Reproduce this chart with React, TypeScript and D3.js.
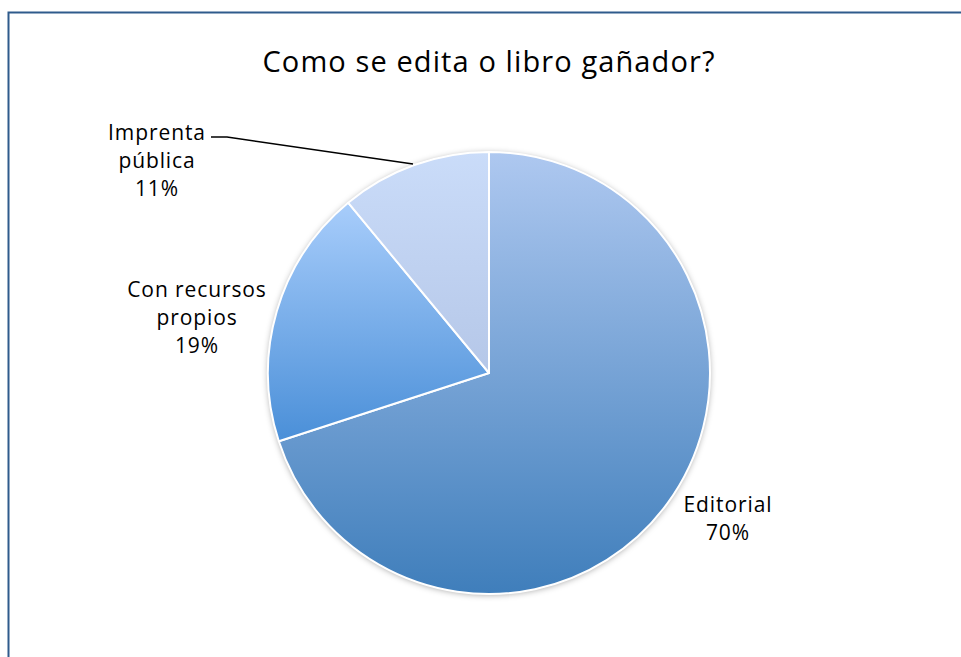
import React from "react";
import * as d3 from "d3";

const categories = ["Editorial", "Con recursos propios", "Imprenta pública"];
const values = [70, 19, 11];
const labelLines = [["Editorial", "70%"], ["Con recursos", "propios", "19%"], ["Imprenta", "pública", "11%"]];
const gradTop = ["#aec8f0", "#a8cdfb", "#cadcf9"];
const gradBottom = ["#3f7ebb", "#4a8fd8", "#b5c7e8"];
const title = "Como se edita o libro gañador?";

const W = 961, H = 657;
const cx = 489, cy = 373, R = 221;
const FONT = "'Open Sans', Lato, sans-serif";

export default function App() {
  const pie = d3.pie<number>().sort(null).value((d) => d).startAngle(0).endAngle(2 * Math.PI);
  const arcs = pie(values);
  const arc = d3.arc<d3.PieArcDatum<number>>().innerRadius(0).outerRadius(R);
  const labelPos: [number, number][] = [[728, 505], [197, 290], [157, 133]];
  return (
    <svg width={W} height={H} style={{ position: "absolute", left: 0, top: 0, background: "#fff" }}>
      <defs>
        {categories.map((c, i) => (
          <linearGradient key={c} id={`g${i}`} x1="0" y1="0" x2="0" y2="1">
            <stop offset="0" stopColor={gradTop[i]} />
            <stop offset="1" stopColor={gradBottom[i]} />
          </linearGradient>
        ))}
        <filter id="sh" x="-20%" y="-20%" width="140%" height="140%">
          <feGaussianBlur in="SourceAlpha" stdDeviation="3" />
          <feOffset dx="0" dy="1" result="b" />
          <feFlood floodColor="#000" floodOpacity="0.35" />
          <feComposite in2="b" operator="in" />
          <feMerge>
            <feMergeNode />
            <feMergeNode in="SourceGraphic" />
          </feMerge>
        </filter>
      </defs>
      <rect x={0} y={0} width={W} height={H} fill="#fff" />
      <path d={`M8.5,${H} V12.5 H${W}`} fill="none" stroke="#2f5b8c" strokeWidth={2} />
      <text x={489} y={72} textAnchor="middle" fontFamily={FONT} fontSize={29} letterSpacing={1.1} fill="#000">{title}</text>
      <g transform={`translate(${cx},${cy})`}>
        <circle r={R} fill="#fff" filter="url(#sh)" />
        {arcs.map((a, i) => (
          <path key={i} d={arc(a) || ""} fill={`url(#g${i})`} stroke="#fff" strokeWidth={2} strokeLinejoin="round" />
        ))}
      </g>
      <polyline points="211,137 227,137 413,164" fill="none" stroke="#000" strokeWidth={1.5} />
      {labelLines.map((lines, i) => (
        <text key={i} textAnchor="middle" fontFamily={FONT} fontSize={21} letterSpacing={0.9} fill="#000">
          {lines.map((t, j) => (
            <tspan key={j} x={labelPos[i][0]} y={labelPos[i][1] + 7 + j * 28}>{t}</tspan>
          ))}
        </text>
      ))}
    </svg>
  );
}
